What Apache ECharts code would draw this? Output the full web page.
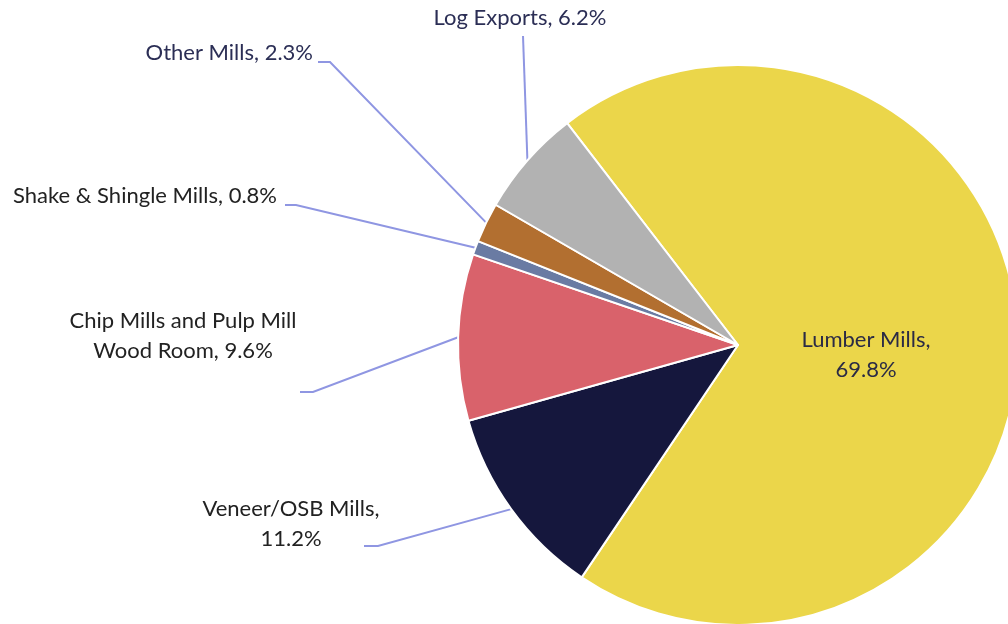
<!DOCTYPE html>
<html>
<head>
<meta charset="utf-8">
<script src="https://cdn.jsdelivr.net/npm/echarts@6/dist/echarts.min.js"></script>
<style>
  html, body { margin: 0; padding: 0; background: #fff; }
  #chart { width: 1008px; height: 624px; }
</style>
</head>
<body>
<div id="chart"></div>
<script>
// data, clockwise from the top-left edge of the yellow slice
const categories = ['Lumber Mills', 'Veneer/OSB Mills', 'Chip Mills and Pulp Mill Wood Room',
  'Shake & Shingle Mills', 'Other Mills', 'Log Exports'];
const values = [69.8, 11.2, 9.6, 0.8, 2.3, 6.2];
const colors = ['#EBD64A', '#15173D', '#D9626B', '#6A7BA3', '#B26F30', '#B2B2B2'];
const labelText = ['Lumber Mills,\n69.8%', 'Veneer/OSB Mills,\n11.2%', 'Chip Mills and Pulp Mill\nWood Room, 9.6%',
  'Shake & Shingle Mills, 0.8%', 'Other Mills, 2.3%', 'Log Exports, 6.2%'];
const textColors = ['#2B2B45', '#222222', '#222222', '#222222', '#2B2E55', '#2B2E55'];

// label placement (x, y, align, vAlign, elbow point, line end point)
const labelPos = [
  { x: 866, y: 355, align: 'center', v: 'middle' },
  { x: 291, y: 524, align: 'center', v: 'middle', line: [[378, 546], [364, 546]] },
  { x: 183, y: 336, align: 'center', v: 'middle', line: [[313, 392], [300, 392]] },
  { x: 277, y: 196, align: 'right', v: 'middle', line: [[296, 205], [285, 205]] },
  { x: 313, y: 53, align: 'right', v: 'middle', line: [[330, 62], [318, 62]] },
  { x: 520, y: 18, align: 'center', v: 'middle', line: [[523, 36]] }
];

const myChart = echarts.init(document.getElementById('chart'));

const option = {
  animation: false,
  series: [{
    type: 'pie',
    center: [738, 345],
    radius: 280,
    startAngle: 127.6,
    clockwise: true,
    itemStyle: { borderColor: '#fff', borderWidth: 2 },
    label: {
      show: true,
      position: 'outside',
      fontFamily: 'Lato, "Open Sans", sans-serif',
      fontSize: 22,
      lineHeight: 30
    },
    labelLine: {
      show: true,
      lineStyle: { color: '#8F96E2', width: 2 }
    },
    labelLayout: function (params) {
      const p = labelPos[params.dataIndex];
      const res = { x: p.x, y: p.y, align: p.align, verticalAlign: p.v };
      if (p.line && params.labelLinePoints) {
        res.labelLinePoints = [params.labelLinePoints[0]].concat(p.line);
      }
      return res;
    },
    data: categories.map(function (name, i) {
      return {
        name: name,
        value: values[i],
        itemStyle: { color: colors[i] },
        label: {
          formatter: labelText[i],
          color: textColors[i],
          position: i === 0 ? 'inside' : 'outside'
        },
        labelLine: { show: i !== 0 }
      };
    })
  }]
};

myChart.setOption(option);
</script>
</body>
</html>
